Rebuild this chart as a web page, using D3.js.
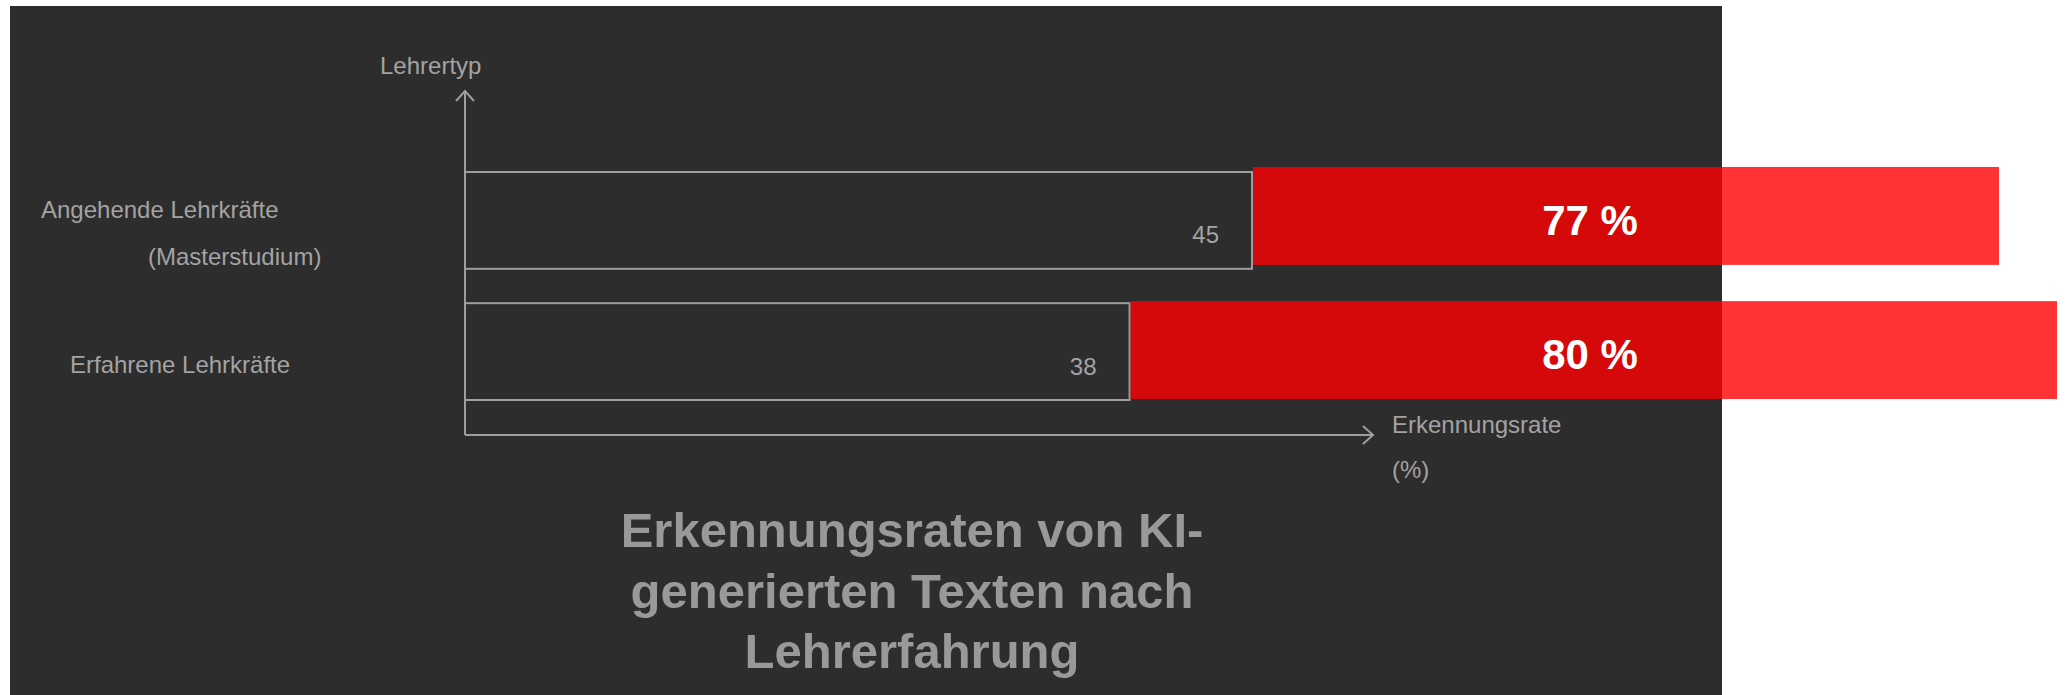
<!DOCTYPE html>
<html lang="de">
<head>
<meta charset="utf-8">
<title>Erkennungsraten von KI-generierten Texten nach Lehrerfahrung</title>
<script src="https://cdn.jsdelivr.net/npm/d3@7"></script>
<style>
    html, body { margin: 0; padding: 0; background: #ffffff; }
    svg { display: block; font-family: "Liberation Sans", Arial, sans-serif; }
</style>
</head>
<body>
<svg id="chart" width="2068" height="695"></svg>
<script>
// Kategorien (Zeilen), Wert im Rahmenbalken, Erkennungsrate im roten Balken.
var categories = ['Angehende Lehrkräfte|(Masterstudium)', 'Erfahrene Lehrkräfte'];
var counts = [45, 38];
var rates = [77, 80];
var yAxisTitle = 'Lehrertyp';
var xAxisTitle = ['Erkennungsrate', '(%)'];
var titleLines = ['Erkennungsraten von KI-', 'generierten Texten nach', 'Lehrerfahrung'];

(function () {
    var W = 2068, H = 695;
    var BG = '#2d2d2d';
    var LINE = '#9e9e9e';
    var TXT = '#a3a3a3';

    var svg = d3.select('#chart').attr('viewBox', '0 0 ' + W + ' ' + H);

    // dark panel, the red bars run out past its right edge onto white
    svg.append('rect')
        .attr('x', 10).attr('y', 6)
        .attr('width', 1712).attr('height', H - 6)
        .attr('fill', BG);

    var x0 = 465, axisBottom = 435, axisTop = 91, axisRight = 1373;

    var x = d3.scaleLinear().domain([0, 45]).range([x0, 1252]);
    var y = d3.scaleBand().domain(categories).range([172, 400]).paddingInner(0.262);
    // red overlay bars use their own scale
    var r = d3.scaleLinear().domain([0, 80]).range([510, 2057]);
    var yr = d3.scaleBand().domain(categories).range([167, 399]).paddingInner(0.27);

    var g = svg.append('g');

    // outlined bars
    g.selectAll('rect.cnt')
        .data(categories)
        .enter().append('rect')
        .attr('class', 'cnt')
        .attr('x', x(0))
        .attr('y', function (d) { return y(d); })
        .attr('width', function (d, i) { return x(counts[i]) - x(0); })
        .attr('height', y.bandwidth())
        .attr('fill', 'none')
        .attr('stroke', LINE)
        .attr('stroke-width', 2);

    g.selectAll('text.cnt')
        .data(categories)
        .enter().append('text')
        .attr('class', 'cnt')
        .attr('x', function (d, i) { return x(counts[i]) - 33; })
        .attr('y', function (d) { return y(d) + y.bandwidth() / 2 + 23; })
        .attr('text-anchor', 'end')
        .attr('font-size', 24)
        .attr('fill', TXT)
        .text(function (d, i) { return counts[i]; });

    // red bars: semi-transparent, so they darken over the panel
    g.selectAll('rect.rate')
        .data(categories)
        .enter().append('rect')
        .attr('class', 'rate')
        .attr('x', function (d, i) { return x(counts[i]) + 1; })
        .attr('y', function (d) { return yr(d); })
        .attr('width', function (d, i) { return r(rates[i]) - x(counts[i]) - 1; })
        .attr('height', yr.bandwidth())
        .attr('fill', 'rgba(255,0,0,0.8)');

    g.selectAll('text.rate')
        .data(categories)
        .enter().append('text')
        .attr('class', 'rate')
        .attr('x', 1590)
        .attr('y', function (d) { return yr(d) + yr.bandwidth() / 2 + 19; })
        .attr('text-anchor', 'middle')
        .attr('font-size', 42)
        .attr('font-weight', 'bold')
        .attr('fill', '#ffffff')
        .text(function (d, i) { return rates[i] + ' %'; });

    // axes with open arrow heads
    var ax = g.append('g')
        .attr('fill', 'none')
        .attr('stroke', LINE)
        .attr('stroke-width', 2);
    ax.append('path').attr('d', 'M' + x0 + ',' + axisBottom + 'V' + axisTop);
    ax.append('path').attr('d', 'M' + (x0 - 9) + ',' + (axisTop + 10) + 'L' + x0 + ',' + axisTop + 'L' + (x0 + 9) + ',' + (axisTop + 10));
    ax.append('path').attr('d', 'M' + x0 + ',' + axisBottom + 'H' + axisRight);
    ax.append('path').attr('d', 'M' + (axisRight - 10) + ',' + (axisBottom - 9) + 'L' + axisRight + ',' + axisBottom + 'L' + (axisRight - 10) + ',' + (axisBottom + 9));

    g.append('text')
        .attr('x', 380).attr('y', 74)
        .attr('font-size', 24).attr('fill', TXT)
        .text(yAxisTitle);

    g.selectAll('text.xt')
        .data(xAxisTitle)
        .enter().append('text')
        .attr('class', 'xt')
        .attr('x', 1392)
        .attr('y', function (d, i) { return 433 + i * 45; })
        .attr('font-size', 24).attr('fill', TXT)
        .text(function (d) { return d; });

    // category labels, left of the y axis (line start offsets follow the original)
    var labelX = [[41, 148], [70]];
    categories.forEach(function (c, i) {
        var lines = c.split('|');
        var base = y(c) + y.bandwidth() / 2 + 21 - (lines.length - 1) * 23.5;
        lines.forEach(function (l, j) {
            g.append('text')
                .attr('x', labelX[i][j])
                .attr('y', base + j * 47)
                .attr('font-size', 24)
                .attr('fill', TXT)
                .text(l);
        });
    });

    // title
    g.selectAll('text.title')
        .data(titleLines)
        .enter().append('text')
        .attr('class', 'title')
        .attr('x', 912)
        .attr('y', function (d, i) { return 547 + i * 60.5; })
        .attr('text-anchor', 'middle')
        .attr('font-size', 49)
        .attr('font-weight', 'bold')
        .attr('fill', '#999999')
        .text(function (d) { return d; });
})();
</script>
</body>
</html>
